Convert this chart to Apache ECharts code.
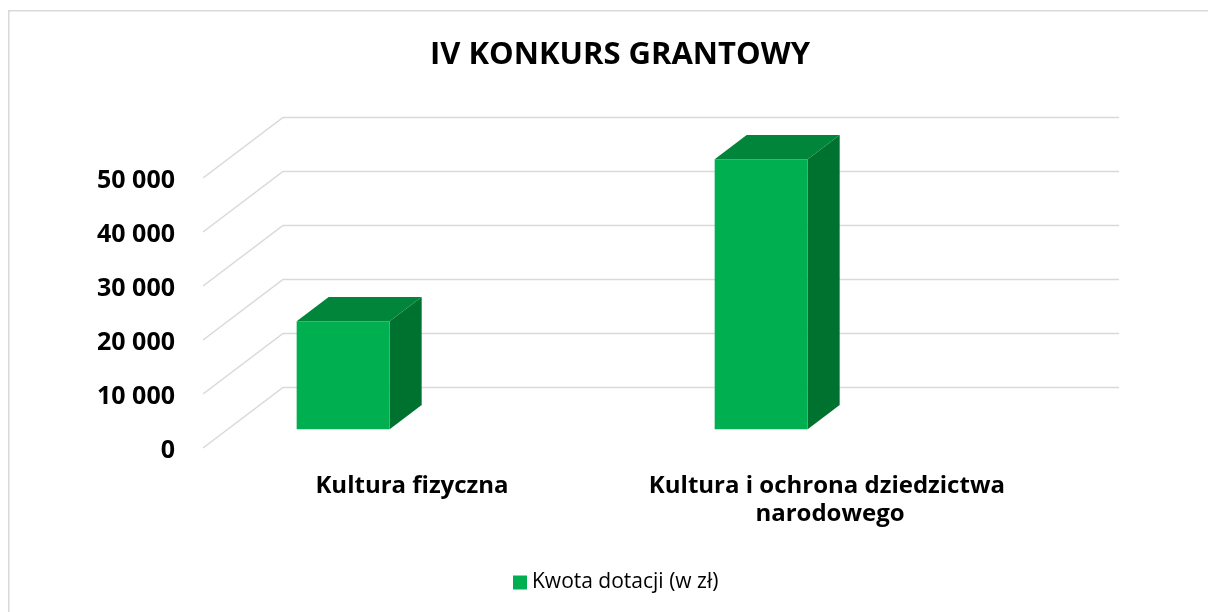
<!DOCTYPE html>
<html>
<head>
<meta charset="utf-8">
<script src="https://cdn.jsdelivr.net/npm/echarts@6/dist/echarts.min.js"></script>
<style>
html,body{margin:0;padding:0;background:#fff;}
#chart{width:1208px;height:612px;}
</style>
</head>
<body>
<div id="chart"></div>
<script>
// ---- data ----
const titleText = 'IV KONKURS GRANTOWY';
const seriesName = 'Kwota dotacji (w zł)';
const categories = ['Kultura fizyczna', 'Kultura i ochrona dziedzictwa narodowego'];
const values = [20000, 50000];
const yTicks = [0, 10000, 20000, 30000, 40000, 50000];

// ---- 3D look (projection of depth) ----
const DX = 80, DY = -60.5;      // depth vector from front plane to back wall
const T0 = 0.31, T1 = 0.71;     // bar depth range (fraction of depth)
const BAR_OFF = -0.224;         // bar centre offset within category band
const BAR_W = 0.2225;           // bar width as fraction of band

const FONT = '"Open Sans", sans-serif';

const chart = echarts.init(document.getElementById('chart'));

function fmt(v){ return '{v|' + String(v).replace(/\B(?=(\d{3})+(?!\d))/g, ' ') + '}'; }

const option = {
  animation: false,
  backgroundColor: '#fff',
  textStyle: { fontFamily: FONT },
  title: {
    text: titleText,
    left: 615, top: 35, textAlign: 'center',
    textStyle: { fontFamily: FONT, fontWeight: 'bold', fontSize: 31, color: '#000' }
  },
  legend: {
    data: [seriesName],
    left: 513, top: 572, padding: 0,
    icon: 'rect', itemWidth: 14, itemHeight: 14, itemGap: 6,
    textStyle: { fontFamily: FONT, fontSize: 21, color: '#000' }
  },
  graphic: [{
    type: 'rect', silent: true, z: -10,
    shape: { x: 8.75, y: 10.75, width: 1400, height: 800 },
    style: { fill: 'none', stroke: '#d9d9d9', lineWidth: 1.5 }
  }],
  grid: { left: 203, right: 169, top: 178, bottom: 164 },
  xAxis: {
    type: 'category', data: categories,
    axisLine: { show: false }, axisTick: { show: false }, splitLine: { show: false },
    axisLabel: {
      interval: 0, margin: 24, width: 400, overflow: 'break',
      fontFamily: FONT, fontWeight: 'bold', fontSize: 24, lineHeight: 28, color: '#000'
    }
  },
  yAxis: {
    type: 'value', min: 0, max: 50000, interval: 10000,
    axisLine: { show: false }, axisTick: { show: false }, splitLine: { show: false },
    axisLabel: {
      margin: 28, formatter: fmt,
      fontFamily: FONT, fontWeight: 'bold', fontSize: 25, color: '#000',
      rich: { v: { fontFamily: FONT, fontWeight: 'bold', fontSize: 25, color: '#000', padding: [6, 0, 0, 0] } }
    }
  },
  series: [
    {
      type: 'custom', name: 'grid3d', silent: true, z: 1,
      data: yTicks,
      encode: { y: 0 },
      renderItem: function (params, api) {
        const cs = params.coordSys;
        const y = api.coord([0, api.value(0)])[1];
        const x0 = cs.x, x1 = cs.x + cs.width;
        return {
          type: 'polyline',
          shape: { points: [[x0, y], [x0 + DX, y + DY], [x1 + DX, y + DY]] },
          style: { stroke: '#d9d9d9', lineWidth: 1.5, fill: null }
        };
      }
    },
    {
      type: 'custom', name: seriesName, z: 2,
      itemStyle: { color: '#00b050' },
      data: values.map((v, i) => [i, v]),
      encode: { x: 0, y: 1 },
      renderItem: function (params, api) {
        const idx = api.value(0);
        const base = api.coord([idx, 0]);
        const top = api.coord([idx, api.value(1)]);
        const band = api.size([1, 0])[0];
        const cx = base[0] + BAR_OFF * band;
        const xl = cx - BAR_W * band / 2, xr = cx + BAR_W * band / 2;
        const y0 = base[1], yv = top[1];
        const p = (x, y, t) => [x + t * DX, y + t * DY];
        return {
          type: 'group',
          children: [
            { type: 'polygon', shape: { points: [p(xr, y0, T0), p(xr, yv, T0), p(xr, yv, T1), p(xr, y0, T1)] },
              style: { fill: '#007230' } },
            { type: 'polygon', shape: { points: [p(xl, yv, T0), p(xr, yv, T0), p(xr, yv, T1), p(xl, yv, T1)] },
              style: { fill: '#00853a' } },
            { type: 'rect', shape: { x: xl + T0 * DX, y: yv + T0 * DY, width: xr - xl, height: y0 - yv } ,
              style: { fill: '#00b050' } }
          ]
        };
      }
    }
  ]
};
chart.setOption(option);
</script>
</body>
</html>
